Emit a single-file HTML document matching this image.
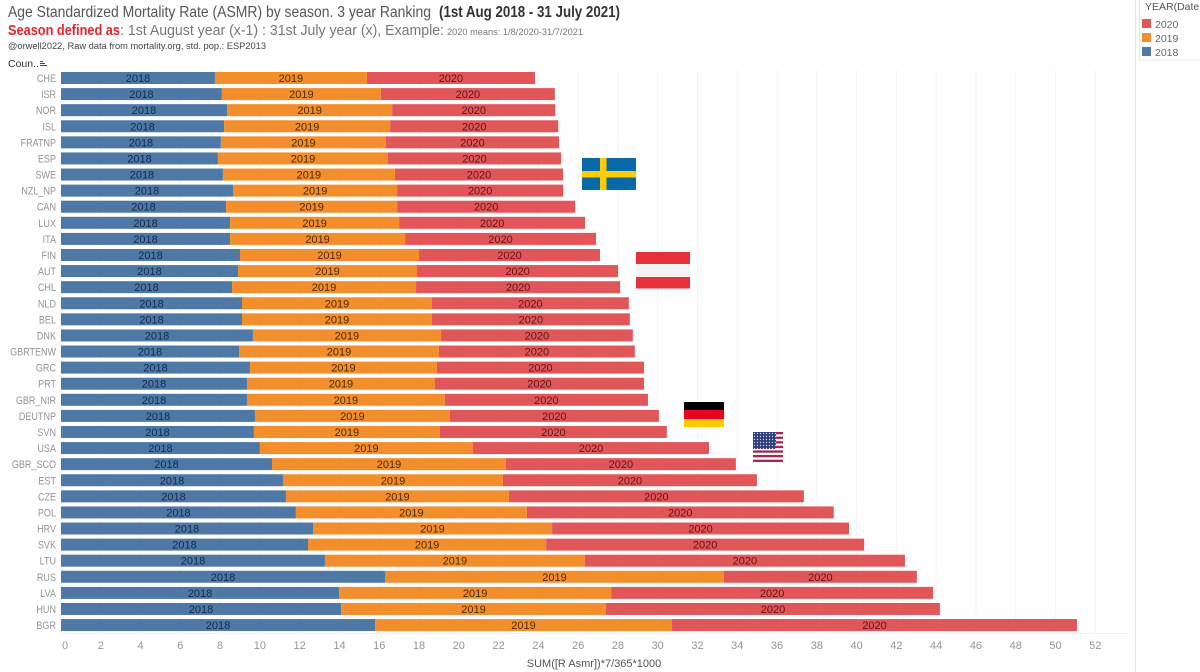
<!DOCTYPE html>
<html lang="en">
<head>
<meta charset="utf-8">
<title>ASMR by season</title>
<style>
html,body{margin:0;padding:0;background:#fff;width:1200px;height:672px;overflow:hidden}
svg{display:block;font-family:"Liberation Sans",Arial,sans-serif}
</style>
</head>
<body>
<svg id="chart" xmlns="http://www.w3.org/2000/svg" width="1200" height="672" viewBox="0 0 1200 672">
  <rect x="0" y="0" width="1200" height="672" fill="#fff"/>
  <text x="8" y="17" font-size="15.5" fill="#555" textLength="423" lengthAdjust="spacingAndGlyphs">Age Standardized Mortality Rate (ASMR) by season. 3 year Ranking</text>
  <text x="439" y="17" font-size="15.5" font-weight="bold" fill="#333" textLength="181" lengthAdjust="spacingAndGlyphs">(1st Aug 2018 - 31 July 2021)</text>
  <text x="8" y="35" font-size="15" font-weight="bold" fill="#e8242c" textLength="112" lengthAdjust="spacingAndGlyphs">Season defined as</text>
  <text x="120" y="35" font-size="15" fill="#777" textLength="324" lengthAdjust="spacingAndGlyphs">: 1st August year (x-1) : 31st July  year (x), Example:</text>
  <text x="447" y="35" font-size="9.5" fill="#777" textLength="136" lengthAdjust="spacingAndGlyphs">2020 means: 1/8/2020-31/7/2021</text>
  <text x="8" y="49" font-size="9.5" fill="#444" textLength="258" lengthAdjust="spacingAndGlyphs">@orwell2022,  Raw data from mortality.org, std. pop.: ESP2013</text>
  <text x="8" y="67" font-size="10.5" fill="#333">Coun..</text>
  <g stroke="#444" stroke-width="1">
    <line x1="40" y1="61.5" x2="43" y2="61.5"/>
    <line x1="40" y1="63.5" x2="45" y2="63.5"/>
    <line x1="40" y1="65.5" x2="47" y2="65.5"/>
  </g>
  <g id="grid"></g>
  <g id="bars"></g>
  <g id="xticks"></g>
  <text x="594" y="667" font-size="11" fill="#555" text-anchor="middle">SUM([R Asmr])*7/365*1000</text>

  <line x1="1135.5" y1="0" x2="1135.5" y2="672" stroke="#e6e6e6" stroke-width="1"/>
  <g>
    <rect x="1139.5" y="-1" width="61" height="61" fill="#fff" stroke="#e4e4e4"/>
    <text x="1145" y="10" font-size="10.5" fill="#555">YEAR(Date -</text>
    <rect x="1142" y="19" width="9" height="9" fill="#e15759"/>
    <text x="1155" y="28" font-size="10.5" fill="#666">2020</text>
    <rect x="1142" y="33" width="9" height="9" fill="#f28e2b"/>
    <text x="1155" y="42" font-size="10.5" fill="#666">2019</text>
    <rect x="1142" y="47" width="9" height="9" fill="#4e79a7"/>
    <text x="1155" y="56" font-size="10.5" fill="#666">2018</text>
  </g>

  <g>
    <rect x="582" y="158" width="54" height="32" fill="#0a6aa8"/>
    <rect x="600" y="158" width="6.500" height="32" fill="#fecc02"/>
    <rect x="582" y="171" width="54" height="6.500" fill="#fecc02"/>
  </g>
  <g>
    <rect x="636" y="252" width="54" height="12" fill="#e8303a"/>
    <rect x="636" y="264" width="54" height="13" fill="#f3f3f3"/>
    <rect x="636" y="277" width="54" height="11.500" fill="#e8303a"/>
  </g>
  <g>
    <rect x="684" y="402" width="40" height="8" fill="#000"/>
    <rect x="684" y="410" width="40" height="9" fill="#e8001c"/>
    <rect x="684" y="419" width="40" height="8" fill="#ffcc00"/>
  </g>
  <g>
    <defs>
      <pattern id="stars" x="753" y="432" width="3" height="3" patternUnits="userSpaceOnUse">
        <rect width="3" height="3" fill="#2a3c78"/>
        <circle cx="1.500" cy="1.500" r="0.700" fill="#c9cfe4"/>
      </pattern>
    </defs>
    <rect x="753" y="432" width="30" height="30" fill="#fff"/>
    <rect x="753" y="432" width="30" height="2.300" fill="#a8244a"/>
    <rect x="753" y="436.600" width="30" height="2.300" fill="#a8244a"/>
    <rect x="753" y="441.200" width="30" height="2.300" fill="#a8244a"/>
    <rect x="753" y="445.800" width="30" height="2.300" fill="#a8244a"/>
    <rect x="753" y="450.400" width="30" height="2.300" fill="#a8244a"/>
    <rect x="753" y="455" width="30" height="2.300" fill="#a8244a"/>
    <rect x="753" y="459.700" width="30" height="2.300" fill="#a8244a"/>
    <rect x="753" y="432" width="23" height="17" fill="url(#stars)"/>
  </g>
</svg>
<script>
const countries = ["CHE","ISR","NOR","ISL","FRATNP","ESP","SWE","NZL_NP","CAN","LUX","ITA","FIN","AUT","CHL","NLD","BEL","DNK","GBRTENW","GRC","PRT","GBR_NIR","DEUTNP","SVN","USA","GBR_SCO","EST","CZE","POL","HRV","SVK","LTU","RUS","LVA","HUN","BGR"];
const values2018 = [7.74,8.09,8.35,8.20,8.04,7.89,8.14,8.65,8.30,8.50,8.50,9.00,8.90,8.60,9.10,9.10,9.65,8.95,9.50,9.35,9.35,9.75,9.70,10.00,10.61,11.16,11.31,11.81,12.67,12.42,13.27,16.29,13.98,14.08,15.79];
const values2019 = [7.64,7.99,8.30,8.35,8.30,8.55,8.65,8.25,8.60,8.50,8.80,9.00,9.00,9.25,9.55,9.55,9.45,10.05,9.40,9.45,9.95,9.80,9.35,10.71,11.76,11.06,11.21,11.61,12.02,11.97,13.07,17.04,13.68,13.32,14.93];
const values2020 = [8.45,8.75,8.20,8.45,8.70,8.70,8.45,8.35,8.95,9.35,9.60,9.10,10.11,10.26,9.90,9.95,9.65,9.85,10.41,10.51,10.21,10.51,11.41,11.87,11.56,12.77,14.83,15.43,14.93,15.99,16.09,9.70,16.19,16.79,20.36];
const seriesNames = ["2018","2019","2020"];
const xTicks = [0,2,4,6,8,10,12,14,16,18,20,22,24,26,28,30,32,34,36,38,40,42,44,46,48,50,52];

const NS = "http://www.w3.org/2000/svg";
const fills = ["#4e79a7","#f28e2b","#e15759"];
const labelFills = ["#14294a","#4a2c0a","#5e1418"];
const x = v => 61 + v * 19.89;
const y = i => 78 + i * 16.09;
const BAR_H = 12;

function make(tag, parent, attrs, txt) {
  const el = document.createElementNS(NS, tag);
  for (const k in attrs) el.setAttribute(k, attrs[k]);
  if (txt !== undefined) el.textContent = txt;
  parent.appendChild(el);
  return el;
}

const grid = document.getElementById("grid");
const barsG = document.getElementById("bars");
const ticksG = document.getElementById("xticks");

xTicks.forEach(t => {
  const ln = make("line", grid, {x1: x(t), x2: x(t), y1: 70, y2: 633, stroke: "#f5f5f5", "stroke-width": 1});
  
  
  const lb = make("text", ticksG, {x: t === 0 ? x(t) + 4 : x(t), y: 649, "font-size": 11, fill: "#949494", "text-anchor": "middle"}, String(t));
  
  
});
const base = make("line", grid, {x1: 61, x2: 1128, y1: 633.5, y2: 633.5, stroke: "#f2f2f2", "stroke-width": 1});



countries.forEach((c, i) => {
  const lab = make("text", barsG, {x: 56, y: y(i) + 4, "font-size": 11, fill: "#949494", "text-anchor": "end"}, c);
  
  
  lab.setAttribute('textLength', (lab.getComputedTextLength() * 0.82).toFixed(1));
  lab.setAttribute('lengthAdjust', 'spacingAndGlyphs');
  const segs = [values2018[i], values2019[i], values2020[i]];
  let acc = 0;
  segs.forEach((v, s) => {
    const x0 = x(acc), x1 = x(acc + v);
    const r = make("rect", barsG, {x: x0, y: y(i) - BAR_H / 2, width: x1 - x0, height: BAR_H, fill: fills[s]});
    
    
    const t = make("text", barsG, {x: (x0 + x1) / 2, y: y(i) + 4, "font-size": 11, fill: labelFills[s], "text-anchor": "middle"}, seriesNames[s]);
    
    
    acc += v;
  });
});
</script>
</body>
</html>
